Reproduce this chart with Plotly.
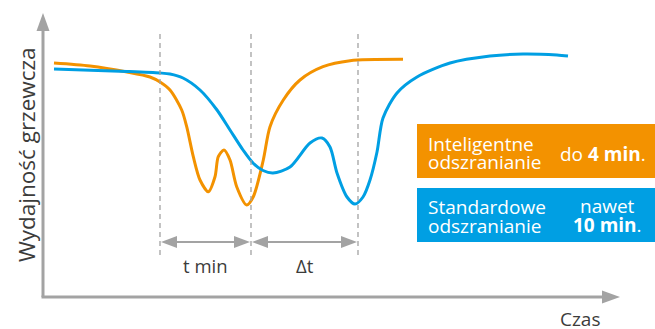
import plotly.graph_objects as go

# Data (time units vs heating performance units)
orange_t = [11, 47, 84, 107, 117, 127, 138.7, 143.7, 150.3, 157, 165.3, 172, 175.3, 181, 187, 193.7, 203.7, 210.3, 220.3, 227, 240.3, 257, 280, 307, 360]
orange_y = [234, 231, 225, 220, 215, 207, 187, 170.3, 140.3, 117, 105.3, 120.3, 140.3, 147, 137, 110.3, 92, 100.3, 137, 170.3, 197, 217, 230.3, 236.3, 237.7]

blue_t = [11, 84, 117, 127, 140, 157, 174, 187, 200, 210, 220, 230, 247, 267, 279, 287, 294, 304, 312, 320, 327, 334, 340, 354, 374, 407, 447, 480, 514, 525]
blue_y = [228, 225.5, 224, 223, 219, 207, 187, 167, 147, 134, 126.5, 124, 130, 154, 159, 150, 124, 100, 93, 100, 117, 145, 179, 204, 220, 234, 241, 243, 242, 241]

event_t = [117, 208, 315]
interval_labels = ["t min", "Δt"]
axis_labels = ["Czas", "Wydajność grzewcza"]
legend_names = [["Inteligentne", "odszranianie"], ["Standardowe", "odszranianie"]]
legend_values = [["do <b>4 min</b>."], ["nawet", "<b>10 min</b>."]]

ORANGE = "#F39200"
BLUE = "#009FE3"
GRAY = "#A3A3A3"
TEXT = "#3C3C3B"
FONT = "Open Sans"

X_END = 577
Y_END = 284

fig = go.Figure()
fig.add_trace(go.Scatter(x=orange_t, y=orange_y, mode="lines",
                         line=dict(color=ORANGE, width=3, shape="spline", smoothing=0.8),
                         hoverinfo="skip", showlegend=False))
fig.add_trace(go.Scatter(x=blue_t, y=blue_y, mode="lines",
                         line=dict(color=BLUE, width=3, shape="spline", smoothing=0.8),
                         hoverinfo="skip", showlegend=False))

shapes = []

def head(tx, ty, dx, dy, length, half):
    # triangle tip at (tx,ty), pointing in direction (dx,dy)
    bx, by = tx - dx * length, ty - dy * length
    px, py = -dy, dx
    return dict(type="path", xref="x", yref="y",
                path=f"M{tx},{ty} L{bx + px*half},{by + py*half} L{bx - px*half},{by - py*half} Z",
                fillcolor=GRAY, line=dict(width=0))

# axes
shapes.append(dict(type="line", xref="x", yref="y", x0=-1.5, y0=0, x1=X_END - 16, y1=0,
                   line=dict(color=GRAY, width=3)))
shapes.append(dict(type="line", xref="x", yref="y", x0=0, y0=0, x1=0, y1=Y_END - 16,
                   line=dict(color=GRAY, width=3)))
shapes.append(head(X_END, 0, 1, 0, 18, 6.5))
shapes.append(head(0, Y_END, 0, 1, 18, 6.5))

# dashed event lines
for t in event_t:
    shapes.append(dict(type="line", xref="x", yref="y", x0=t, x1=t, y0=42, y1=264,
                       line=dict(color=GRAY, width=1.3, dash="5px,4px")))

# double arrows
ARR_Y = 55
for a, b in [(event_t[0], event_t[1]), (event_t[1], event_t[2])]:
    shapes.append(dict(type="line", xref="x", yref="y", x0=a + 10, x1=b - 10, y0=ARR_Y, y1=ARR_Y,
                       line=dict(color=GRAY, width=2)))
    shapes.append(head(a + 1, ARR_Y, -1, 0, 16, 6))
    shapes.append(head(b - 1, ARR_Y, 1, 0, 16, 6))

# legend boxes
shapes.append(dict(type="rect", xref="x", yref="y", x0=374, x1=615, y0=119, y1=173,
                   fillcolor=ORANGE, line=dict(width=0)))
shapes.append(dict(type="rect", xref="x", yref="y", x0=374, x1=615, y0=55, y1=109,
                   fillcolor=BLUE, line=dict(width=0)))

annotations = []
def txt(x, y, s, size=19, color=TEXT, xanchor="center", angle=0):
    annotations.append(dict(x=x, y=y, xref="x", yref="y", text=s, showarrow=False,
                            xanchor=xanchor, yanchor="middle", textangle=angle,
                            font=dict(family=FONT, size=size, color=color)))

txt(162, 32, interval_labels[0], size=18.5)
txt(262, 32, interval_labels[1], size=18.5)
txt(537, -22, axis_labels[0], size=19)
txt(-17, 142, axis_labels[1], size=22.5, angle=-90)

# box texts
txt(383, 153, legend_names[0][0], color="white", xanchor="left")
txt(383, 135, legend_names[0][1], color="white", xanchor="left")
txt(383, 90, legend_names[1][0], color="white", xanchor="left")
txt(383, 71, legend_names[1][1], color="white", xanchor="left")
txt(560, 143, legend_values[0][0], color="white")
txt(564, 91, legend_values[1][0], color="white")
txt(564, 72, legend_values[1][1], color="white")

fig.update_layout(
    width=655, height=329, autosize=False,
    margin=dict(l=0, r=0, t=0, b=0),
    paper_bgcolor="white", plot_bgcolor="white",
    xaxis=dict(range=[-43, 612], visible=False, fixedrange=True),
    yaxis=dict(range=[-32, 297], visible=False, fixedrange=True),
    shapes=shapes, annotations=annotations,
    showlegend=False,
)

fig.write_html("out.html", config=dict(displayModeBar=False),
               post_script="document.body.style.margin='0';document.body.style.padding='0';")
